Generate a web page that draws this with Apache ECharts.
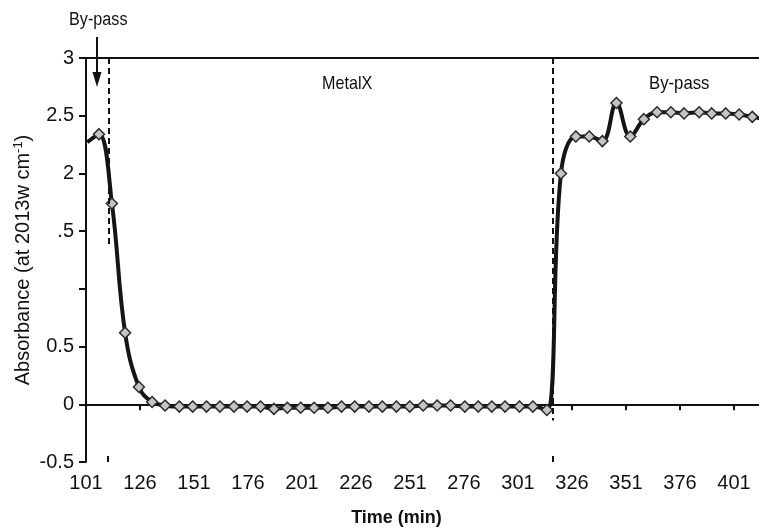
<!DOCTYPE html>
<html>
<head>
<meta charset="utf-8">
<script src="https://cdn.jsdelivr.net/npm/echarts@6/dist/echarts.min.js"></script>
<style>
  html, body { margin: 0; padding: 0; background: #fff; }
  #chart { width: 759px; height: 527px; }
</style>
</head>
<body>
<div id="chart"></div>
<script>
// time (min) and absorbance
const times = [101.6, 107.0, 113.0, 119.1, 125.5, 131.6, 137.6, 144.2, 150.4, 156.8,
  163.0, 169.5, 175.6, 181.8, 188.0, 194.2, 200.4, 206.6, 213.0, 219.3,
  225.4, 232.0, 238.2, 244.7, 250.9, 257.1, 263.6, 269.8, 276.4, 282.6,
  288.9, 295.0, 301.7, 307.9, 314.4, 320.9, 327.8, 334.0, 340.1, 346.6,
  353.0, 359.3, 365.4, 371.8, 377.9, 384.9, 390.7, 397.2, 403.4, 409.5, 415.6];
const absorbance = [2.27, 2.34, 1.74, 0.62, 0.15, 0.02, -0.01, -0.02, -0.02, -0.02,
  -0.02, -0.02, -0.02, -0.02, -0.04, -0.03, -0.03, -0.03, -0.03, -0.02,
  -0.02, -0.02, -0.02, -0.02, -0.02, -0.01, -0.01, -0.01, -0.02, -0.02,
  -0.02, -0.02, -0.02, -0.02, -0.05, 2.0, 2.32, 2.32, 2.28, 2.61,
  2.32, 2.47, 2.53, 2.53, 2.52, 2.53, 2.52, 2.52, 2.51, 2.49, 2.47];

const xTickValues = [101, 126, 151, 176, 201, 226, 251, 276, 301, 326, 351, 376, 401];
const markerTicks = [111, 317];
const yTickText = { '3': '3', '2.5': '2.5', '2': '2', '1.5': '.5', '1': '', '0.5': '0.5', '0': '0', '-0.5': '-0.5' };

// dashed separators: [time, top, bottom]
const bypassEnd = [111.6, 3, 1.36];
const metalEnd = [316.9, 3, -0.14];

const xMin = 101, xMax = 412.6;
const font = '"Liberation Sans Narrow", "Liberation Sans", Arial, sans-serif';

const chart = echarts.init(document.getElementById('chart'));

const seriesData = times.map((t, i) => {
  const item = { value: [t, absorbance[i]] };
  if (i === 0) item.symbol = 'none';
  return item;
});

const option = {
  backgroundColor: '#fff',
  animation: false,
  grid: { left: 86, right: 0, top: 58, bottom: 65, outerBoundsMode: 'none' },
  xAxis: [
    {
      type: 'value', min: xMin, max: xMax, position: 'bottom',
      name: 'Time (min)', nameLocation: 'middle', nameGap: 47,
      nameTextStyle: { fontFamily: font, fontWeight: 'bold', fontSize: 18, color: '#111', padding: [0, 52, 0, 0] },
      axisLine: { lineStyle: { color: '#111', width: 2 } },
      axisTick: { customValues: xTickValues, length: 6, lineStyle: { color: '#111', width: 2 } },
      axisLabel: { customValues: xTickValues, margin: 11, fontFamily: font, fontSize: 20, color: '#111' },
      splitLine: { show: false }
    },
    {
      type: 'value', min: xMin, max: xMax, position: 'top',
      axisLine: { lineStyle: { color: '#111', width: 2 } },
      axisTick: { show: false }, axisLabel: { show: false }, splitLine: { show: false }
    },
    {
      type: 'value', min: xMin, max: xMax, position: 'bottom',
      axisLine: { show: false },
      axisTick: { inside: true, customValues: markerTicks, length: 6, lineStyle: { color: '#111', width: 2 } },
      axisLabel: { show: false }, splitLine: { show: false }
    }
  ],
  yAxis: {
    type: 'value', min: -0.5, max: 3, interval: 0.5,
    name: '{a|Absorbance (at 2013w cm}{s|-1}{a|)}',
    nameLocation: 'middle', nameGap: 52, nameRotate: 90, nameMoveOverlap: false,
    nameTextStyle: {
      rich: {
        a: { fontFamily: font, fontSize: 20, fontWeight: 500, color: '#111' },
        s: { fontFamily: font, fontSize: 13, color: '#111', padding: [0, 0, 9, 0] }
      }
    },
    axisLine: { show: true, lineStyle: { color: '#111', width: 2 } },
    axisTick: { show: true, length: 7, lineStyle: { color: '#111', width: 2 } },
    axisLabel: {
      margin: 12, fontFamily: font, fontSize: 20, color: '#111',
      formatter: v => yTickText[String(v)] ?? String(v)
    },
    splitLine: { show: false }
  },
  series: [{
    type: 'line',
    data: seriesData,
    smooth: 0.4,
    clip: true,
    symbol: 'diamond',
    symbolSize: 11,
    lineStyle: { color: '#151515', width: 4 },
    itemStyle: { color: '#c4c4c4', borderColor: '#2a2a2a', borderWidth: 1.5 },
    markLine: {
      silent: true,
      symbol: ['none', 'none'],
      label: { show: false },
      lineStyle: { color: '#111', width: 2, type: [6, 4] },
      data: [
        [{ coord: [bypassEnd[0], bypassEnd[1]] }, { coord: [bypassEnd[0], bypassEnd[2]] }],
        [{ coord: [metalEnd[0], metalEnd[1]] }, { coord: [metalEnd[0], metalEnd[2]] }]
      ]
    }
  }]
};

chart.setOption(option);

// axis break and annotations
const gapL = chart.convertToPixel({ xAxisIndex: 0 }, 334.8);
const gapR = chart.convertToPixel({ xAxisIndex: 0 }, 337.6);
const axisY = chart.convertToPixel({ yAxisIndex: 0 }, -0.5);
chart.setOption({
  graphic: [
    { type: 'rect', shape: { x: gapL, y: axisY - 3, width: gapR - gapL, height: 6 }, style: { fill: '#fff' }, z: 100 },
    { type: 'text', x: 69, y: 11, scaleX: 0.9, style: { text: 'By-pass', font: '18px ' + font, fill: '#111' } },
    { type: 'line', shape: { x1: 97, y1: 37, x2: 97, y2: 76 }, style: { stroke: '#111', lineWidth: 2 } },
    { type: 'polygon', shape: { points: [[92.5, 72], [101.5, 72], [97, 87]] }, style: { fill: '#111' } },
    { type: 'text', x: 322, y: 74, scaleX: 0.85, style: { text: 'MetalX', font: '19px ' + font, fill: '#111' } },
    { type: 'text', x: 649, y: 74, scaleX: 0.88, style: { text: 'By-pass', font: '19px ' + font, fill: '#111' } }
  ]
});
</script>
</body>
</html>
